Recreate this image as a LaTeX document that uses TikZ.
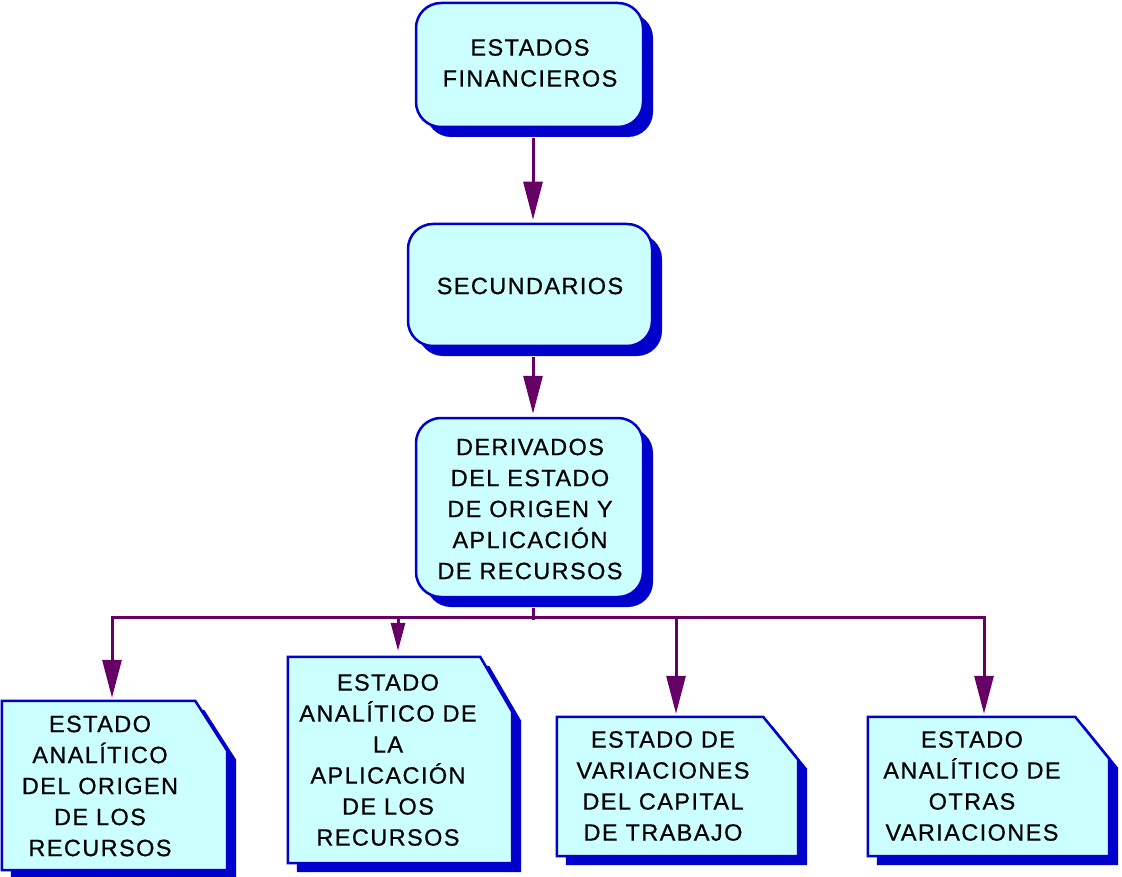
\documentclass[tikz,border=0pt]{standalone}
\usepackage{fontspec}
\setmainfont{Liberation Sans}[LetterSpace=6,FakeBold=0.6]
\usetikzlibrary{arrows.meta,shadows}
\definecolor{boxfill}{RGB}{204,255,255}
\definecolor{bordblue}{RGB}{0,0,204}
\definecolor{shadblue}{RGB}{0,0,204}
\definecolor{conncol}{RGB}{102,0,102}
\newcommand\cardpath[4]{([xshift=#4,yshift=-#4]#1.north west) -- ([xshift=#4-#2,yshift=-#4]#1.north east) -- ([xshift=#4,yshift=-#4-#3]#1.north east) -- ([xshift=#4,yshift=-#4]#1.south east) -- ([xshift=#4,yshift=-#4]#1.south west) -- cycle}
\tikzset{
  rbox/.style={draw=bordblue, line width=2.5pt, fill=boxfill, rounded corners=25pt, inner sep=0pt,
    general shadow={fill=shadblue, shadow xshift=10pt, shadow yshift=-10pt}},
  cardbox/.style={draw=none, fill=none, inner sep=0pt},
  txt/.style={align=center, inner sep=0pt, font=\fontsize{23.5}{31}\selectfont},
  conn/.style={draw=conncol, line width=3pt},
  arr/.style={conn, -{Triangle[length=38pt,width=19pt]}, shorten >=3pt},
  sarr/.style={conn, -{Triangle[length=28pt,width=14pt]}, shorten >=6pt},
}
\begin{document}
\begin{tikzpicture}[x=1pt,y=-1pt]
\useasboundingbox (0,0) rectangle (1122,877);
% top boxes
\node[rbox, minimum width=227pt, minimum height=124pt] (b1) at (529.5,65) {};
\node[rbox, minimum width=244pt, minimum height=122pt] (b2) at (530,285) {};
\node[rbox, minimum width=227pt, minimum height=179pt] (b3) at (529.5,507.5) {};
\node[txt] (t1) at (530,63) {ESTADOS\\FINANCIEROS};
\node[txt] (t2) at (530,286) {SECUNDARIOS};
\node[txt] (t3) at (530,509) {DERIVADOS\\DEL ESTADO\\DE ORIGEN Y\\APLICACIÓN\\DE RECURSOS};
% card boxes
\node[cardbox, minimum width=225pt, minimum height=169pt] (b4) at (114.5,785.5) {};
\node[cardbox, minimum width=224pt, minimum height=206pt] (b5) at (400,760) {};
\node[cardbox, minimum width=241pt, minimum height=139pt] (b6) at (677.5,786.5) {};
\node[cardbox, minimum width=241pt, minimum height=139pt] (b7) at (988.5,786.5) {};
\fill[shadblue] \cardpath{b4}{32pt}{50pt}{9pt};
\filldraw[fill=boxfill, draw=bordblue, line width=2.5pt] \cardpath{b4}{32pt}{50pt}{0pt};
\fill[shadblue] \cardpath{b5}{32pt}{55pt}{9pt};
\filldraw[fill=boxfill, draw=bordblue, line width=2.5pt] \cardpath{b5}{32pt}{55pt}{0pt};
\fill[shadblue] \cardpath{b6}{35pt}{43pt}{9pt};
\filldraw[fill=boxfill, draw=bordblue, line width=2.5pt] \cardpath{b6}{35pt}{43pt}{0pt};
\fill[shadblue] \cardpath{b7}{34pt}{42pt}{9pt};
\filldraw[fill=boxfill, draw=bordblue, line width=2.5pt] \cardpath{b7}{34pt}{42pt}{0pt};
\node[txt] (t4) at (100,786) {ESTADO\\ANALÍTICO\\DEL ORIGEN\\DE LOS\\RECURSOS};
\node[txt] (t5) at (388,760) {ESTADO\\ANALÍTICO DE\\LA\\APLICACIÓN\\DE LOS\\RECURSOS};
\node[txt] (t6) at (663,786) {ESTADO DE\\VARIACIONES\\DEL CAPITAL\\DE TRABAJO};
\node[txt] (t7) at (972,786) {ESTADO\\ANALÍTICO DE\\OTRAS\\VARIACIONES};
% connectors
\coordinate (bus) at (533,617);
\draw[arr] ([xshift=3.5pt,yshift=-10pt]b1.south) -- ([xshift=3pt]b2.north);
\draw[arr] ([xshift=3pt,yshift=-10pt]b2.south) -- ([xshift=3.5pt]b3.north);
\draw[conn] ([xshift=3.5pt,yshift=-10pt]b3.south) -- ([yshift=-3pt]bus);
\draw[arr] (bus) -| ([xshift=-2.5pt]b4.north);
\draw[sarr] (bus) -| ([xshift=-2pt]b5.north);
\draw[arr] (bus) -| ([xshift=-1.5pt]b6.north);
\draw[arr] (bus) -| ([xshift=-4.5pt]b7.north);
\end{tikzpicture}
\end{document}
